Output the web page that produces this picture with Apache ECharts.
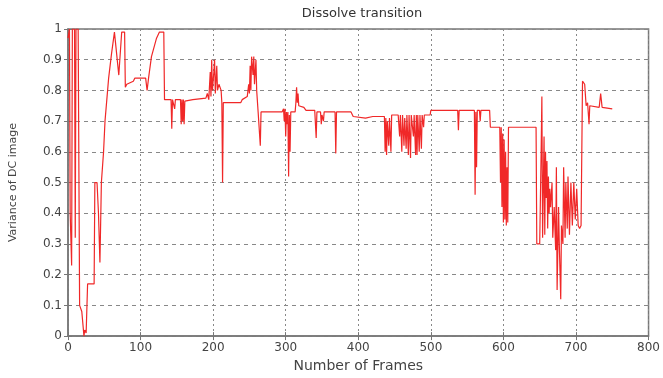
<!DOCTYPE html>
<html>
<head>
<meta charset="utf-8">
<script src="https://cdn.jsdelivr.net/npm/echarts@6/dist/echarts.min.js"></script>
<style>
  html, body { margin: 0; padding: 0; background: #fff; }
  #myChart { width: 663px; height: 378px; }
</style>
</head>
<body>
<div id="myChart"></div>
<script>
// frame numbers and variance, one pair per column
var frames = [
  0, 2, 3, 5, 6, 9, 10, 11, 14, 16, 19, 22, 23, 25, 27, 36, 37, 40, 42, 44,
  46, 49, 51, 56, 60, 64, 66, 70, 74, 78, 79, 81, 90, 92, 107, 109, 111, 115, 122, 126,
  132, 133,
  142, 143, 144, 146, 147, 148, 155, 156, 157, 158, 159, 160, 161, 172, 190, 192, 194, 196,
  197, 198, 199, 201, 202, 203, 205, 206, 208, 211, 212, 213, 214, 238, 240, 247, 249, 250,
  251, 252, 253, 255, 256, 257, 259, 260, 262, 264, 265, 266,
  295, 297, 298, 299, 300, 301, 302, 303, 304, 305, 306, 307, 313, 314, 315, 316, 317, 318,
  325, 328, 340, 342, 343, 348, 349, 350, 352, 353, 368, 369, 370, 390, 393, 410, 420, 436,
  437, 438, 439, 440, 442, 443, 445, 446, 455, 457, 458, 460, 461, 463, 464, 466, 467, 469,
  470, 472, 473, 476, 477, 479, 480, 481, 482, 484, 485, 487, 488, 490, 491, 499,
  500, 537, 538, 539, 560, 561, 562, 563, 564, 567, 568, 569, 581, 582, 595, 596, 597, 598,
  599, 600, 601, 602, 603, 604, 605, 606, 607, 645,
  646, 650, 652, 653, 654, 656, 657, 658, 659, 660, 661, 662, 663, 664, 665, 667, 668, 670,
  672, 673, 674, 676, 677, 679, 680, 682, 683, 685, 686, 688, 689, 691, 693, 695, 697, 699,
  701, 703, 705, 707, 709, 712, 714, 716, 718, 719, 732, 734, 736, 750
]
var variance = [
  0.97, 1.0, 0.4, 0.23, 1.0, 1.0, 0.32, 1.0, 1.0, 0.1, 0.08, 0.0, 0.02, 0.01, 0.17, 0.17, 0.5, 0.5, 0.4, 0.24,
  0.5, 0.6, 0.7, 0.84, 0.92, 0.99, 0.99, 0.85, 0.99, 0.99, 0.81, 0.82, 0.83, 0.84, 0.84, 0.8, 0.84, 0.91, 0.97, 0.99,
  0.99, 0.77,
  0.77, 0.675, 0.77, 0.77, 0.74, 0.77, 0.77, 0.69, 0.77, 0.70, 0.77, 0.69, 0.765, 0.77, 0.775, 0.79, 0.77, 0.86,
  0.78, 0.9, 0.8, 0.86, 0.9, 0.79, 0.88, 0.8, 0.82, 0.8, 0.76, 0.5, 0.76, 0.76, 0.77, 0.78, 0.82, 0.79,
  0.88, 0.8, 0.91, 0.85, 0.91, 0.82, 0.9, 0.8, 0.73, 0.73, 0.62, 0.73,
  0.73, 0.74, 0.7, 0.74, 0.65, 0.73, 0.69, 0.73, 0.52, 0.72, 0.6, 0.73, 0.73, 0.76, 0.81, 0.76, 0.79, 0.75,
  0.745, 0.735, 0.735, 0.645, 0.73, 0.73, 0.69, 0.72, 0.7, 0.73, 0.73, 0.595, 0.73, 0.73, 0.715, 0.71, 0.715, 0.715,
  0.6, 0.71, 0.59, 0.7, 0.62, 0.71, 0.6, 0.72, 0.72, 0.65, 0.72, 0.6, 0.72, 0.62, 0.71, 0.61, 0.72, 0.59,
  0.72, 0.58, 0.72, 0.65, 0.72, 0.59, 0.72, 0.59, 0.72, 0.6, 0.72, 0.61, 0.72, 0.68, 0.72, 0.72,
  0.735, 0.735, 0.67, 0.735, 0.735, 0.46, 0.73, 0.55, 0.735, 0.735, 0.7, 0.735, 0.735, 0.68, 0.68, 0.5, 0.68, 0.42,
  0.66, 0.37, 0.64, 0.38, 0.6, 0.36, 0.55, 0.37, 0.68, 0.68,
  0.3, 0.3, 0.6, 0.78, 0.32, 0.65, 0.33, 0.6, 0.45, 0.57, 0.35, 0.52, 0.4, 0.48, 0.42, 0.5, 0.32, 0.42,
  0.28, 0.55, 0.15, 0.42, 0.3, 0.12, 0.36, 0.3, 0.55, 0.32, 0.5, 0.35, 0.52, 0.33, 0.5, 0.36, 0.5, 0.38,
  0.48, 0.36, 0.35, 0.36, 0.83, 0.82, 0.75, 0.76, 0.69, 0.75, 0.745, 0.79, 0.745, 0.74
]
var xTicks = [0, 100, 200, 300, 400, 500, 600, 700, 800]
var yTicks = [0, 0.1, 0.2, 0.3, 0.4, 0.5, 0.6, 0.7, 0.8, 0.9, 1]

var points = frames.map(function (f, i) { return [f, variance[i]] })

var myChart = echarts.init(document.getElementById('myChart'))
var font = 'DejaVu Sans'
var option = {
  animation: false,
  title: {
    text: 'Dissolve transition',
    left: 357,
    textAlign: 'center',
    top: 2,
    textStyle: { color: '#333', fontSize: 13, fontWeight: 'normal', fontFamily: font }
  },
  grid: { left: 66, right: 14, top: 29, bottom: 38, show: true, borderColor: '#777', borderWidth: 1.5 },
  xAxis: [{
    type: 'value',
    min: xTicks[0],
    max: xTicks[xTicks.length - 1],
    interval: 100,
    name: 'Number of Frames',
    nameLocation: 'middle',
    nameGap: 22,
    nameTextStyle: { color: '#444', fontSize: 14, fontFamily: font },
    axisLine: { lineStyle: { color: '#777', width: 1.5 } },
    axisTick: { inside: true, length: 4, lineStyle: { color: '#777' } },
    axisLabel: { color: '#444', fontSize: 12, fontFamily: font, margin: 6 },
    splitLine: { show: true, lineStyle: { color: '#888', type: [2, 3], width: 1 } }
  }, {
    type: 'value',
    position: 'top',
    min: xTicks[0],
    max: xTicks[xTicks.length - 1],
    interval: 100,
    axisLine: { show: false },
    axisTick: { inside: true, length: 4, lineStyle: { color: '#777' } },
    axisLabel: { show: false },
    splitLine: { show: false }
  }],
  yAxis: [{
    type: 'value',
    min: yTicks[0],
    max: yTicks[yTicks.length - 1],
    interval: 0.1,
    name: 'Variance of DC image',
    nameLocation: 'middle',
    nameGap: 49,
    nameTextStyle: { color: '#444', fontSize: 11, fontFamily: font },
    axisLine: { show: true, lineStyle: { color: '#777', width: 1.5 } },
    axisTick: { show: true, inside: true, length: 4, lineStyle: { color: '#777' } },
    axisLabel: { color: '#444', fontSize: 12, fontFamily: font, margin: 6 },
    splitLine: { show: true, lineStyle: { color: '#888', type: [4, 4], width: 1 } }
  }, {
    type: 'value',
    position: 'right',
    min: yTicks[0],
    max: yTicks[yTicks.length - 1],
    interval: 0.1,
    axisLine: { show: false },
    axisTick: { show: true, inside: true, length: 4, lineStyle: { color: '#777' } },
    axisLabel: { show: false },
    splitLine: { show: false }
  }],
  series: [{
    type: 'line',
    data: points,
    showSymbol: false,
    symbol: 'none',
    clip: true,
    lineStyle: { color: '#f02828', width: 1.2 }
  }]
}
myChart.setOption(option)
window.addEventListener('resize', function () {
  myChart.resize()
})
</script>
</body>
</html>
